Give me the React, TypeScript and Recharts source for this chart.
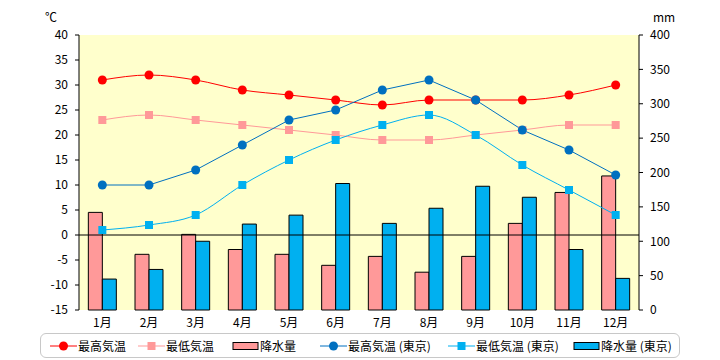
import React from 'react'
import { ComposedChart, Bar, Line, XAxis, YAxis, CartesianGrid, ReferenceLine } from 'recharts'

const months = ['1月', '2月', '3月', '4月', '5月', '6月', '7月', '8月', '9月', '10月', '11月', '12月']
const maxTemp = [31, 32, 31, 29, 28, 27, 26, 27, 27, 27, 28, 30]
const minTemp = [23, 24, 23, 22, 21, 20, 19, 19, 20, 21, 22, 22]
const rain = [142, 81, 110, 88, 81, 65, 78, 55, 78, 126, 171, 195]
const maxTempTokyo = [10, 10, 13, 18, 23, 25, 29, 31, 27, 21, 17, 12]
const minTempTokyo = [1, 2, 4, 10, 15, 19, 22, 24, 20, 14, 9, 4]
const rainTokyo = [45, 59, 100, 125, 138, 184, 126, 148, 180, 164, 88, 46]
const tempTicks = [-15, -10, -5, 0, 5, 10, 15, 20, 25, 30, 35, 40]
const rainTicks = [0, 50, 100, 150, 200, 250, 300, 350, 400]

const data = months.map((m, i) => ({
  month: m,
  maxTemp: maxTemp[i],
  minTemp: minTemp[i],
  rain: rain[i],
  maxTempTokyo: maxTempTokyo[i],
  minTempTokyo: minTempTokyo[i],
  rainTokyo: rainTokyo[i],
}))

const FONT = '"Noto Sans CJK JP", "DejaVu Sans", sans-serif'
const RED = '#FF0000'
const PINK = '#FF9999'
const BLUE = '#0070C0'
const LIGHTBLUE = '#00B0F0'

const squareDot = (color: string) => (p: any) => (
  <rect key={`sq-${p.index}`} x={p.cx - 4} y={p.cy - 4} width={8} height={8} fill={color} />
)

const legendItems = [
  { label: '最高気温', kind: 'circle', color: RED, x: 50 },
  { label: '最低気温', kind: 'square', color: PINK, x: 138 },
  { label: '降水量', kind: 'bar', color: PINK, x: 232 },
  { label: '最高気温 (東京)', kind: 'circle', color: BLUE, x: 320 },
  { label: '最低気温 (東京)', kind: 'square', color: LIGHTBLUE, x: 448 },
  { label: '降水量 (東京)', kind: 'bar', color: LIGHTBLUE, x: 573 },
]

const LegendIcon = ({ kind, color }: { kind: string; color: string }) => (
  <svg width={27} height={12} style={{ display: 'block' }}>
    {kind === 'bar' ? (
      <rect x={1} y={2.5} width={25} height={7} fill={color} stroke="#000" strokeWidth={1} />
    ) : (
      <>
        <line x1={0} y1={6} x2={27} y2={6} stroke={color} strokeWidth={1} />
        {kind === 'circle' ? (
          <circle cx={13.5} cy={6} r={4.5} fill={color} />
        ) : (
          <rect x={9.5} y={2} width={8} height={8} fill={color} />
        )}
      </>
    )}
  </svg>
)

export default function App() {
  return (
    <div style={{ position: 'absolute', left: 0, top: 0, width: 720, height: 360, background: '#fff', fontFamily: FONT }}>
      <ComposedChart
        width={720}
        height={360}
        data={data}
        margin={{ top: 35, right: 31, bottom: 25, left: 29 }}
        barCategoryGap="20%"
        barGap={0}
      >
        <CartesianGrid fill="#FFFFCC" stroke="none" horizontal={false} vertical={false} yAxisId="t" />
        <XAxis
          dataKey="month"
          axisLine={false}
          tickLine={false}
          tickSize={0}
          tickMargin={8}
          interval={0}
          tick={{ fill: '#000', fontSize: 12, fontFamily: FONT }}
          height={25}
        />
        <YAxis
          yAxisId="t"
          domain={[-15, 40]}
          ticks={tempTicks}
          interval={0}
          width={50}
          axisLine={{ stroke: '#000' }}
          tickLine={{ stroke: '#000' }}
          tickSize={4}
          tickMargin={7}
          tick={{ fill: '#000', fontSize: 12, fontFamily: FONT }}
        />
        <YAxis
          yAxisId="r"
          orientation="right"
          domain={[0, 400]}
          ticks={rainTicks}
          interval={0}
          width={50}
          axisLine={{ stroke: '#000' }}
          tickLine={{ stroke: '#000' }}
          tickSize={4}
          tickMargin={7}
          tick={{ fill: '#000', fontSize: 12, fontFamily: FONT, textAnchor: 'start' }}
        />
        <Bar yAxisId="r" dataKey="rain" fill={PINK} stroke="#000" strokeWidth={1} isAnimationActive={false} />
        <Bar yAxisId="r" dataKey="rainTokyo" fill={LIGHTBLUE} stroke="#000" strokeWidth={1} isAnimationActive={false} />
        <ReferenceLine yAxisId="t" y={0} stroke="#000" strokeWidth={1} />
        <Line
          yAxisId="t"
          type="monotone"
          dataKey="maxTemp"
          stroke={RED}
          strokeWidth={1}
          dot={{ r: 4.5, fill: RED, stroke: 'none' }}
          isAnimationActive={false}
        />
        <Line
          yAxisId="t"
          type="monotone"
          dataKey="minTemp"
          stroke={PINK}
          strokeWidth={1}
          dot={squareDot(PINK)}
          isAnimationActive={false}
        />
        <Line
          yAxisId="t"
          type="linear"
          dataKey="maxTempTokyo"
          stroke={BLUE}
          strokeWidth={1}
          dot={{ r: 4.5, fill: BLUE, stroke: 'none' }}
          isAnimationActive={false}
        />
        <Line
          yAxisId="t"
          type="monotone"
          dataKey="minTempTokyo"
          stroke={LIGHTBLUE}
          strokeWidth={1}
          dot={squareDot(LIGHTBLUE)}
          isAnimationActive={false}
        />
      </ComposedChart>
      <div style={{ position: 'absolute', left: 45, top: 8, fontSize: 12 }}>℃</div>
      <div style={{ position: 'absolute', left: 653, top: 8, fontSize: 12 }}>mm</div>
      <div
        style={{
          position: 'absolute',
          left: 40,
          top: 333,
          width: 638,
          height: 23,
          border: '1.5px solid #C8C8C8',
          borderRadius: 6,
        }}
      />
      {legendItems.map((it) => (
        <div
          key={it.label}
          style={{ position: 'absolute', left: it.x, top: 339, display: 'flex', alignItems: 'center', fontSize: 12, lineHeight: '14px', whiteSpace: 'nowrap' }}
        >
          <LegendIcon kind={it.kind} color={it.color} />
          <span style={{ marginLeft: 1 }}>{it.label}</span>
        </div>
      ))}
    </div>
  )
}
